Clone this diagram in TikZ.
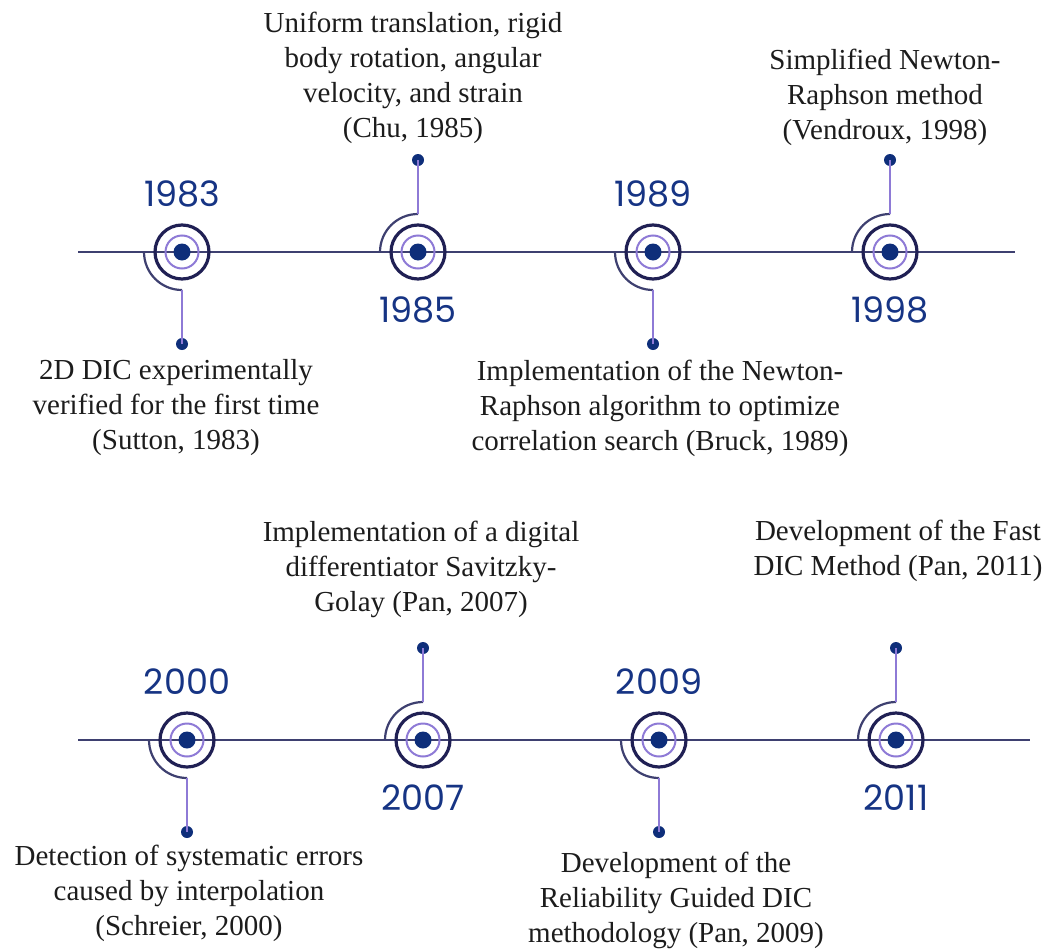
\documentclass[tikz,border=0pt]{standalone}
\usepackage{fontspec}
\setmainfont{Liberation Serif}
\newfontfamily\yearfont{Poppins}

\definecolor{axiscol}{RGB}{62,64,112}
\definecolor{ringcol}{RGB}{32,32,84}
\definecolor{lilac}{RGB}{142,122,214}
\definecolor{dotcol}{RGB}{14,46,122}
\definecolor{yearcol}{RGB}{22,52,132}
\definecolor{textcol}{RGB}{28,28,28}

\tikzset{
  axis/.style={draw=axiscol, line width=2.2pt},
  outerring/.style={circle, draw=ringcol, line width=3.2pt, minimum size=54pt, inner sep=0pt},
  innerring/.style={circle, draw=lilac, line width=2pt, minimum size=33pt, inner sep=0pt},
  centerdot/.style={circle, fill=dotcol, minimum size=17pt, inner sep=0pt},
  quarterarc/.style={draw=axiscol, line width=2.2pt},
  stem/.style={draw=lilac, line width=2.2pt},
  stemdot/.style={circle, fill=dotcol, minimum size=12pt, inner sep=0pt},
  yearlabel/.style={text=yearcol, font=\yearfont\fontsize{35}{38}\selectfont, inner sep=0pt},
  desc/.style={text=textcol, align=center, inner sep=0pt,
    font=\fontsize{29}{35}\selectfont}
}

\begin{document}
\begin{tikzpicture}[x=1pt,y=1pt]
    \useasboundingbox (0,0) rectangle (1048,-950);

    % the two time axes
    \coordinate (a1) at (78,-252);
    \coordinate (b1) at (1015,-252);
    \coordinate (a2) at (78,-740);
    \coordinate (b2) at (1030,-740);
    \draw[axis] (a1) -- (b1);
    \draw[axis] (a2) -- (b2);

    % markers: x / y / year / 1 = stem down, -1 = stem up
    \foreach \x/\y/\yr/\s in {182/252/1983/1, 418/252/1985/-1, 653/252/1989/1, 890/252/1998/-1,
                              187/740/2000/1, 423/740/2007/-1, 659/740/2009/1, 896/740/2011/-1}{
        \node[outerring] (m\yr) at (\x,-\y) {};
        \node[innerring] (i\yr) at (m\yr) {};
        \node[centerdot] (c\yr) at (m\yr) {};
        \draw[quarterarc] ([xshift=-38pt]m\yr.center) arc[start angle=180, delta angle={90*(\s)}, radius=38];
        \coordinate (t\yr) at (\x,{-\y-38*(\s)});
        \node[stemdot] (s\yr) at (\x,{-\y-92*(\s)}) {};
        \draw[stem] (t\yr) -- (s\yr.center);
        \node[yearlabel] (y\yr) at (\x,{-\y+58*(\s)}) {\yr};
    }

    % descriptions
    \node[desc] (d1983) at (176,-408) {2D DIC experimentally\\verified for the first time\\(Sutton, 1983)};
    \node[desc] (d1985) at (413,-78) {Uniform translation, rigid\\body rotation, angular\\velocity, and strain\\(Chu, 1985)};
    \node[desc] (d1989) at (660,-408) {Implementation of the Newton-\\Raphson algorithm to optimize\\correlation search (Bruck, 1989)};
    \node[desc] (d1998) at (885,-97) {Simplified Newton-\\Raphson method\\(Vendroux, 1998)};
    \node[desc] (d2000) at (189,-893) {Detection of systematic errors\\caused by interpolation\\(Schreier, 2000)};
    \node[desc] (d2007) at (421,-569) {Implementation of a digital\\differentiator Savitzky-\\Golay (Pan, 2007)};
    \node[desc] (d2009) at (676,-900) {Development of the\\Reliability Guided DIC\\methodology (Pan, 2009)};
    \node[desc] (d2011) at (898,-551) {Development of the Fast\\DIC Method (Pan, 2011)};
\end{tikzpicture}
\end{document}
